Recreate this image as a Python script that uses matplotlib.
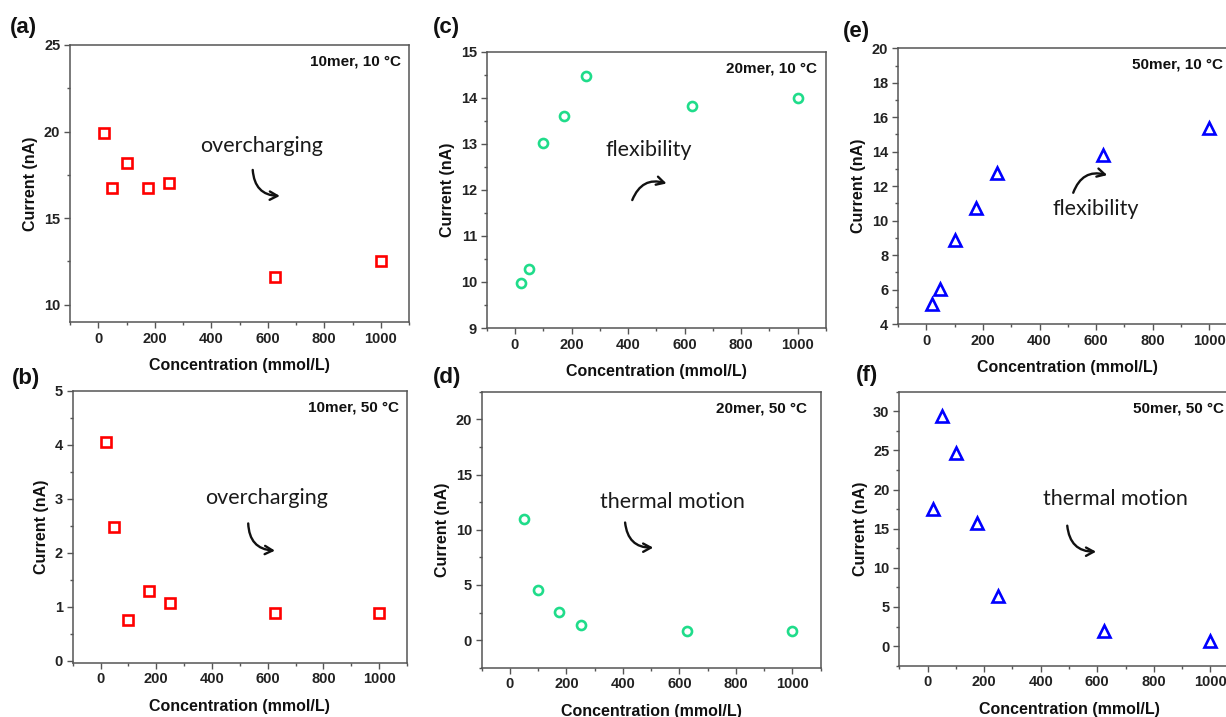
import matplotlib
matplotlib.use("Agg")
import matplotlib.pyplot as plt
from matplotlib.ticker import MultipleLocator, AutoMinorLocator

# DATA
conc = [20, 50, 100, 175, 250, 625, 1000]
conc_d = [50, 100, 175, 250, 625, 1000]

cur_a = [19.9, 16.75, 18.2, 16.75, 17.0, 11.6, 12.5]      # 10mer, 10 C
cur_b = [4.05, 2.47, 0.76, 1.29, 1.07, 0.88, 0.88]        # 10mer, 50 C
cur_c = [9.97, 10.28, 13.02, 13.6, 14.47, 13.82, 14.0]    # 20mer, 10 C
cur_d = [11.0, 4.5, 2.55, 1.4, 0.85, 0.85]                # 20mer, 50 C
cur_e = [5.15, 6.05, 8.9, 10.75, 12.75, 13.8, 15.35]      # 50mer, 10 C
cur_f = [17.5, 29.4, 24.7, 15.7, 6.4, 1.95, 0.7]          # 50mer, 50 C

W, H = 1226, 717
fig = plt.figure(figsize=(W / 100, H / 100), dpi=100)
plt.rcParams['font.family'] = ['Liberation Sans', 'DejaVu Sans']


def rect(l, t, r, b):
    return [l / W, 1 - b / H, (r - l) / W, (b - t) / H]


RED = '#ff0000'
GREEN = '#1fdc8a'
BLUE = '#0000ff'
SPINE = '#555555'

panels = [
    # label, axes rect px, x, y, marker, color, ylim, ymajor, cond text, cond x, note, text pos, arrow start, arrow end, rad, label pos
    ('(a)', (70, 45, 409, 322), conc, cur_a, 's', RED, (9, 25), 5, '10mer, 10 °C', 0.975,
     'overcharging', (0.565, 0.636), (0.539, 0.549), (0.619, 0.455), 0.45, (10, 27)),
    ('(b)', (72.7, 390.7, 407, 662.7), conc, cur_b, 's', RED, (-0.04, 5), 1, '10mer, 50 °C', 0.975,
     'overcharging', (0.580, 0.604), (0.525, 0.512), (0.605, 0.412), 0.45, (12, 378)),
    ('(c)', (486.7, 51.7, 826, 328), conc, cur_c, 'o', GREEN, (9, 15), 1, '20mer, 10 °C', 0.973,
     'flexibility', (0.479, 0.644), (0.429, 0.463), (0.530, 0.523), -0.45, (433, 28)),
    ('(d)', (481.7, 391.7, 820.7, 667.7), conc_d, cur_d, 'o', GREEN, (-2.5, 22.5), 5, '20mer, 50 °C', 0.96,
     'thermal motion', (0.562, 0.599), (0.423, 0.526), (0.506, 0.435), 0.45, (433, 377)),
    ('(e)', (898, 48.3, 1237.6, 324), conc, cur_e, '^', BLUE, (4, 20), 2, '50mer, 10 °C', 0.958,
     'flexibility', (0.582, 0.416), (0.516, 0.476), (0.616, 0.540), -0.45, (843, 31)),
    ('(f)', (899.3, 391.7, 1238.6, 665.7), conc, cur_f, '^', BLUE, (-2.5, 32.5), 5, '50mer, 50 °C', 0.958,
     'thermal motion', (0.636, 0.608), (0.495, 0.511), (0.580, 0.416), 0.45, (856, 375)),
]

for (lab, r, xs, ys, mk, col, ylim, ymaj, cond, cx, note, tpos, a0, a1, rad, lpos) in panels:
    ax = fig.add_axes(rect(*r))
    ax.plot(xs, ys, linestyle='none', marker=mk, markersize=6.5 if mk != '^' else 8,
            markerfacecolor='white', markeredgecolor=col, markeredgewidth=1.9)
    ax.set_xlim(-100, 1100)
    ax.set_ylim(*ylim)
    ax.xaxis.set_major_locator(MultipleLocator(200))
    ax.xaxis.set_minor_locator(AutoMinorLocator(2))
    ax.yaxis.set_major_locator(MultipleLocator(ymaj))
    ax.yaxis.set_minor_locator(AutoMinorLocator(2))
    for s in ax.spines.values():
        s.set_color(SPINE)
        s.set_linewidth(1.1)
    ax.tick_params(which='both', direction='out', top=False, right=False,
                   color=SPINE, width=1.0, labelsize=10.5, pad=3)
    ax.tick_params(which='major', length=4)
    ax.tick_params(which='minor', length=2.5)
    for t in ax.get_xticklabels() + ax.get_yticklabels():
        t.set_fontweight('bold')
        t.set_color('#222222')
    ax.set_xlabel('Concentration (mmol/L)', fontsize=11.5, fontweight='bold', labelpad=9, color='#111111')
    ax.set_ylabel('Current (nA)', fontsize=11.5, fontweight='bold', labelpad=4, color='#111111')

    ax.text(cx, 0.94, cond, transform=ax.transAxes, ha='right', va='center',
            fontsize=11, fontweight='bold', color='#111111')
    ax.text(tpos[0], tpos[1], note, transform=ax.transAxes, ha='center', va='center',
            fontsize=15.5, family=['Lato', 'DejaVu Sans'], color='#1a1a1a')
    ax.annotate('', xy=a1, xycoords='axes fraction', xytext=a0, textcoords='axes fraction',
                arrowprops=dict(arrowstyle='->,head_length=0.55,head_width=0.3', color='#111111',
                                lw=1.7, connectionstyle='arc3,rad=%s' % rad,
                                shrinkA=0, shrinkB=0))

    fig.text(lpos[0] / W, 1 - lpos[1] / H, lab, ha='left', va='center',
             fontsize=16, fontweight='bold', color='#111111')

fig.savefig('out.png', dpi=100, facecolor='white')
